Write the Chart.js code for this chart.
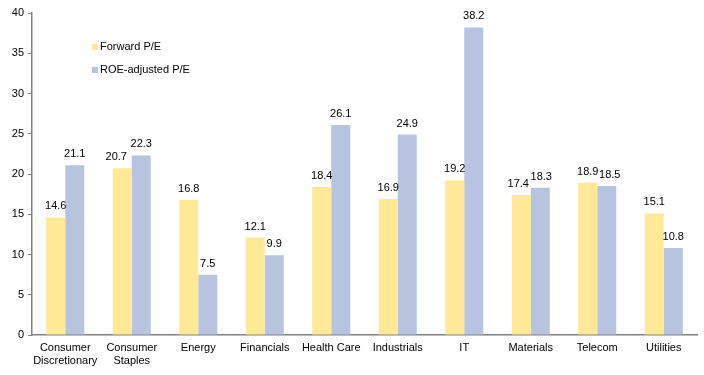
<!DOCTYPE html>
<html><head><meta charset="utf-8">
<script src="https://cdn.jsdelivr.net/npm/chart.js@4.4.1/dist/chart.umd.min.js"></script>
<style>html,body{margin:0;padding:0;background:#fff}#w{width:704px;height:375px}</style>
</head><body><div id="w"><canvas id="c"></canvas></div>
<script>
const categories = [["Consumer","Discretionary"],["Consumer","Staples"],"Energy","Financials","Health Care","Industrials","IT","Materials","Telecom","Utilities"];
const forwardPE = [14.6,20.7,16.8,12.1,18.4,16.9,19.2,17.4,18.9,15.1];
const roeAdjustedPE = [21.1,22.3,7.5,9.9,26.1,24.9,38.2,18.3,18.5,10.8];
const seriesNames = ["Forward P/E","ROE-adjusted P/E"];
const yTicks = [0,5,10,15,20,25,30,35,40];

const FONT = "'Liberation Sans', Arial, sans-serif";
// horizontal nudges for crowded value labels: "datasetIndex-index": px
const labelNudge = {"0-1":-6, "0-7":-3, "1-8":3, "1-7":1};
const labelPlugin = {
  id:'vals',
  afterDatasetsDraw(chart){
    const ctx = chart.ctx;
    ctx.save();
    ctx.font = "11px " + FONT;
    ctx.fillStyle = "#000";
    ctx.textAlign = "center";
    ctx.textBaseline = "alphabetic";
    chart.data.datasets.forEach((ds,i)=>{
      chart.getDatasetMeta(i).data.forEach((bar,j)=>{
        const dx = labelNudge[i+"-"+j] || 0;
        ctx.fillText(ds.data[j].toFixed(1), bar.x + dx, bar.y - 8);
      });
    });
    ctx.restore();
  }
};
const legendPlugin = {
  id:'inlegend',
  afterDraw(chart){
    const ctx = chart.ctx;
    ctx.save();
    ctx.font = "11px " + FONT;
    ctx.textBaseline = "middle";
    const x = 92, ys = [47, 70];
    chart.data.datasets.forEach((ds,i)=>{
      ctx.fillStyle = ds.backgroundColor;
      ctx.fillRect(x, ys[i]-3, 6, 6);
      ctx.fillStyle = "#000";
      ctx.fillText(ds.label, x+8, ys[i]);
    });
    ctx.restore();
  }
};

new Chart(document.getElementById('c'), {
  type:'bar',
  data:{
    labels:categories,
    datasets:[
      {label:seriesNames[0], data:forwardPE, backgroundColor:'#FFE896', borderWidth:0, categoryPercentage:0.572, barPercentage:1.0},
      {label:seriesNames[1], data:roeAdjustedPE, backgroundColor:'#B6C4DF', borderWidth:0, categoryPercentage:0.572, barPercentage:1.0}
    ]
  },
  options:{
    responsive:true, maintainAspectRatio:false, animation:false,
    layout:{padding:{top:13,right:7,left:0,bottom:0}},
    plugins:{legend:{display:false}, tooltip:{enabled:false}},
    scales:{
      x:{
        grid:{display:false, drawTicks:false},
        border:{display:true,color:'#808080',width:1.5},
        ticks:{color:'#000', font:{family:FONT,size:11}, padding:6, maxRotation:0, autoSkip:false},
        afterFit(s){ s.height = 40; }
      },
      y:{
        min:0, max:40,
        afterBuildTicks(s){ s.ticks = yTicks.map(v=>({value:v})); },
        grid:{display:true, drawOnChartArea:false, drawTicks:true, tickLength:4, color:'#808080'},
        border:{display:true,color:'#808080',width:1.5},
        ticks:{color:'#000', font:{family:FONT,size:11}, padding:4},
        afterFit(s){ s.width = 32; }
      }
    }
  },
  plugins:[labelPlugin, legendPlugin]
});
</script>
</body></html>
